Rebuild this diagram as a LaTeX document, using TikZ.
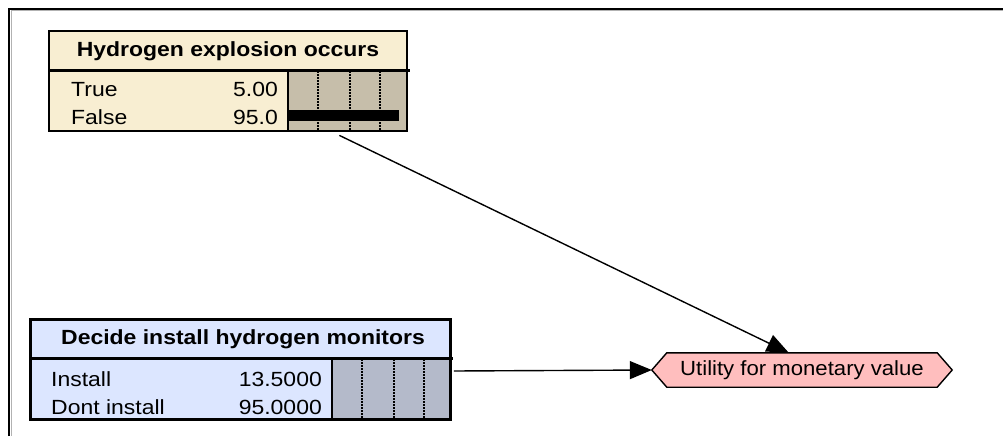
\documentclass[tikz,border=0pt]{standalone}
\usepackage{fontspec}
\setmainfont{Liberation Sans}
\usetikzlibrary{arrows.meta,calc}
\definecolor{natcream}{RGB}{248,238,210}
\definecolor{nattan}{RGB}{198,190,170}
\definecolor{decblue}{RGB}{220,230,255}
\definecolor{decgray}{RGB}{180,186,202}
\definecolor{utilpink}{RGB}{255,190,190}
\newcommand{\wtxt}[1]{\scalebox{1.12}[1]{#1}}
\tikzset{
  boxframe/.style={draw=black, line width=2.8pt, inner sep=0pt},
  titletxt/.style={inner sep=0pt, font=\fontsize{20.5}{22}\selectfont\bfseries},
  rowtxt/.style={inner sep=0pt, font=\fontsize{20.5}{22}\selectfont},
  gridline/.style={line width=1.4pt, dash pattern=on 1.6pt off 1.4pt},
  link/.style={line width=1.4pt, -{Triangle[length=22pt,width=18pt]}},
}
\begin{document}
\begin{tikzpicture}[x=1pt,y=-1pt]
\useasboundingbox (0,0) rectangle (1003,436);
% window frame
\draw[gray!60, line width=1pt] (11,436) -- (11,11) -- (1003,11);
\draw[line width=2pt] (9,436) -- (9,9) -- (1003,9);

% ---- chance node: Hydrogen explosion occurs ----
\node[boxframe, fill=natcream, minimum width=358pt, minimum height=100pt] (hyd) at (228,81) {};
\fill[nattan] (288,70.5) rectangle (407,131);
\foreach \gx in {318,350,380} \draw[gridline] (\gx,71) -- (\gx,130);
\fill[black] (289,110) rectangle (399,121);
\draw[line width=2.6pt] (288,70.5) -- (288,131);
\draw[line width=2.6pt] (49,70.5) -- (410,70.5);
\node[boxframe, minimum width=358pt, minimum height=100pt] (hydb) at (228,81) {};
\node[titletxt] (hydt) at (228,51) {\wtxt{Hydrogen explosion occurs}};
\node[rowtxt, anchor=base west] (hydr1) at (71,96) {\wtxt{True}};
\node[rowtxt, anchor=base east] (hydv1) at (278,96) {\wtxt{5.00}};
\node[rowtxt, anchor=base west] (hydr2) at (71,124) {\wtxt{False}};
\node[rowtxt, anchor=base east] (hydv2) at (278,124) {\wtxt{95.0}};

% ---- decision node: Decide install hydrogen monitors ----
\node[boxframe, fill=decblue, minimum width=420pt, minimum height=100pt] (dec) at (240.5,369.5) {};
\fill[decgray] (332,358.5) rectangle (450,419);
\foreach \gx in {362,394,424} \draw[gridline] (\gx,359) -- (\gx,418);
\draw[line width=2.6pt] (332,358.5) -- (332,419);
\draw[line width=2.6pt] (30,358.5) -- (453,358.5);
\node[boxframe, minimum width=420pt, minimum height=100pt] (decb) at (240.5,369.5) {};
\node[titletxt] (dect) at (243,339) {\wtxt{Decide install hydrogen monitors}};
\node[rowtxt, anchor=base west] (decr1) at (51,386) {\wtxt{Install}};
\node[rowtxt, anchor=base east] (decv1) at (322,386) {\wtxt{13.5000}};
\node[rowtxt, anchor=base west] (decr2) at (51,414) {\wtxt{Dont install}};
\node[rowtxt, anchor=base east] (decv2) at (322,414) {\wtxt{95.0000}};

% ---- utility node ----
\node[inner sep=0pt, minimum width=270pt, minimum height=34pt] (util) at (802,370) {};
\coordinate (utiltip) at ($(util.west)+(-15,0)$);
\draw[fill=utilpink, line width=1.4pt] (util.north west) -- (util.north east)
  -- ($(util.east)+(15,0)$) -- (util.south east) -- (util.south west) -- (utiltip) -- cycle;
\node[rowtxt] (utilt) at (util.center) {\scalebox{1.08}[1]{Utility for monetary value}};

% ---- links ----
\coordinate (hydout) at ($(hyd.south east)+(-69,3)$);
\coordinate (utiltop) at ($(util.north west)+(122,0)$);
\draw[link] (hydout) -- (utiltop);
\draw[link] ($(dec.east)+(2,1.5)$) -- (utiltip);
\end{tikzpicture}
\end{document}
